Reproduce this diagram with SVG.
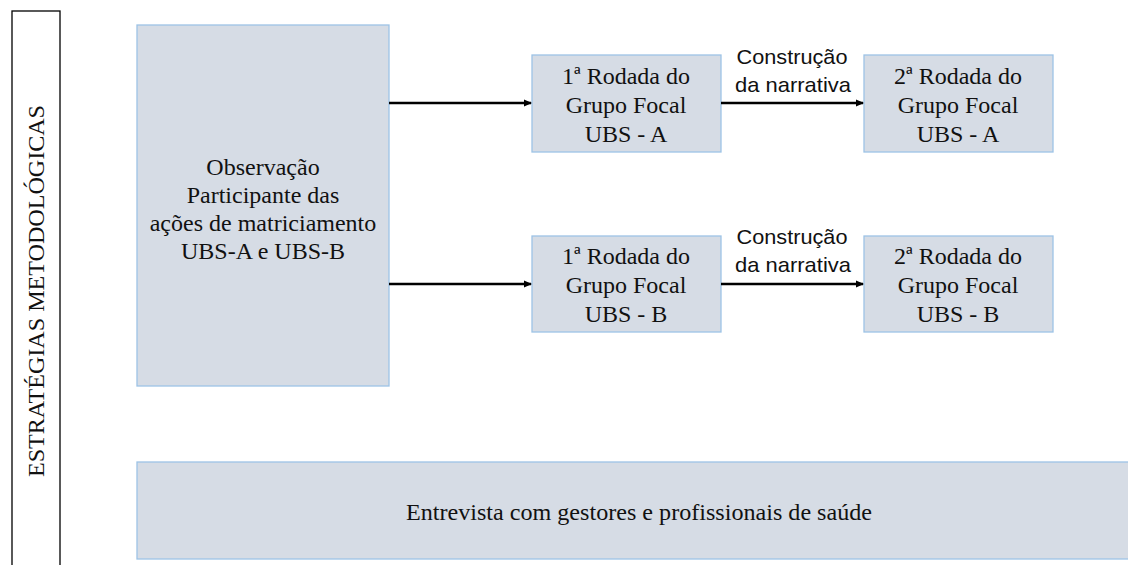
<svg xmlns="http://www.w3.org/2000/svg" width="1128" height="565" viewBox="0 0 1128 565">
<style>
.box{fill:#D6DCE5;stroke:#9DC3E6;stroke-width:1.3}
.t{font-family:'Liberation Serif','DejaVu Serif',serif;font-size:24px;fill:#111;text-anchor:middle}
.s{font-family:'Liberation Sans',Lato,sans-serif;font-size:21px;fill:#111;text-anchor:middle}
.c{stroke:#000;stroke-width:2.5;fill:none;marker-end:url(#ah)}
</style>
<defs>
<marker id="ah" markerWidth="8" markerHeight="8" refX="7" refY="4" orient="auto" markerUnits="userSpaceOnUse">
<path d="M0,0.5 L8,4 L0,7.5 Z" fill="#000"/>
</marker>
</defs>
<rect width="1128" height="565" fill="#fff"/>
<g id="side">
<rect x="12" y="11" width="48" height="560" fill="none" stroke="#000" stroke-width="1.3"/>
<text class="t" transform="translate(44,291) rotate(-90)" font-size="22" textLength="372" lengthAdjust="spacingAndGlyphs">ESTRATÉGIAS METODOLÓGICAS</text>
</g>
<g id="obs">
<rect class="box" x="137" y="25" width="252" height="361"/>
<text class="t" x="263" y="175">Observação</text>
<text class="t" x="263" y="203">Participante das</text>
<text class="t" x="263" y="231">ações de matriciamento</text>
<text class="t" x="263" y="259">UBS-A e UBS-B</text>
</g>
<g id="g1a">
<rect class="box" x="532" y="55" width="189" height="97"/>
<text class="t" x="626" y="84">1ª Rodada do</text>
<text class="t" x="626" y="113">Grupo Focal</text>
<text class="t" x="626" y="142">UBS - A</text>
</g>
<g id="g2a">
<rect class="box" x="864" y="55" width="189" height="97"/>
<text class="t" x="958" y="84">2ª Rodada do</text>
<text class="t" x="958" y="113">Grupo Focal</text>
<text class="t" x="958" y="142">UBS - A</text>
</g>
<g id="g1b">
<rect class="box" x="532" y="236" width="189" height="96"/>
<text class="t" x="626" y="264">1ª Rodada do</text>
<text class="t" x="626" y="293">Grupo Focal</text>
<text class="t" x="626" y="322">UBS - B</text>
</g>
<g id="g2b">
<rect class="box" x="864" y="236" width="189" height="96"/>
<text class="t" x="958" y="264">2ª Rodada do</text>
<text class="t" x="958" y="293">Grupo Focal</text>
<text class="t" x="958" y="322">UBS - B</text>
</g>
<g id="entrevista">
<rect class="box" x="137" y="462" width="1000" height="97"/>
<text class="t" x="639" y="520" textLength="466" lengthAdjust="spacingAndGlyphs">Entrevista com gestores e profissionais de saúde</text>
</g>
<g id="connectors">
<line class="c" x1="389" y1="103" x2="531" y2="103"/>
<line class="c" x1="721" y1="103" x2="863" y2="103"/>
<line class="c" x1="389" y1="284" x2="531" y2="284"/>
<line class="c" x1="721" y1="284" x2="863" y2="284"/>
<text class="s" x="792" y="64" textLength="111" lengthAdjust="spacingAndGlyphs">Construção</text>
<text class="s" x="793" y="92" textLength="116" lengthAdjust="spacingAndGlyphs">da narrativa</text>
<text class="s" x="792" y="244" textLength="111" lengthAdjust="spacingAndGlyphs">Construção</text>
<text class="s" x="793" y="272" textLength="116" lengthAdjust="spacingAndGlyphs">da narrativa</text>
</g>
</svg>
